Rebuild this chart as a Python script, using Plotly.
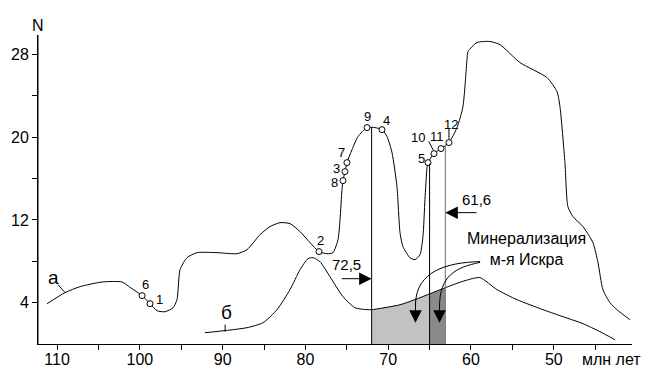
import plotly.graph_objects as go

# ---- data ----
# curve "а"
a_age = [111.21, 109.03, 107.22, 104.57, 102.15, 101.18, 99.73, 98.77, 97.92, 96.96,
         95.99, 95.51, 95.14, 94.30, 93.09, 90.68, 88.26, 87.05, 85.48, 84.28,
         83.07, 81.86, 80.65, 79.44, 78.36, 77.39, 76.67, 76.06, 75.82, 75.58,
         75.46, 75.22, 74.98, 74.37, 73.65, 72.56, 71.6, 70.75, 70.14, 69.54,
         68.94, 68.57, 68.21, 67.37, 66.76, 66.16, 65.80, 65.56, 65.31, 65.19,
         64.47, 63.62, 62.66, 61.69, 60.97, 60.48, 60.36, 59.28, 57.71, 56.50,
         54.08, 50.82, 49.61, 49.25, 48.65, 48.29, 47.68, 46.47, 45.27, 44.66,
         44.06, 43.21, 42.37, 40.80]
a_n = [3.90, 4.97, 5.55, 6.0, 6.0, 5.48, 4.68, 3.90, 3.22, 3.12,
       3.51, 4.29, 7.19, 8.35, 8.84, 8.84, 8.74, 9.13, 10.58, 11.36,
       11.74, 11.65, 10.87, 9.81, 8.94, 8.74, 8.84, 10.10, 12.03, 14.94,
       15.81, 16.68, 17.55, 18.81, 20.07, 20.94, 20.94, 20.74, 20.07, 18.52,
       15.23, 10.77, 9.42, 8.35, 8.16, 8.64, 10.39, 13.97, 17.07, 17.55,
       18.42, 18.91, 19.49, 20.94, 22.97, 27.52, 28.30, 29.17, 29.27, 28.97,
       27.23, 25.78, 24.42, 22.97, 17.55, 13.29, 12.32, 11.36, 9.81, 7.87,
       5.26, 4.0, 3.32, 2.35]

# curve "б"
b_age = [92.13, 87.05, 85.12, 83.43, 81.86, 80.65, 79.69, 79.08, 78.24, 77.03,
         75.46, 74.01, 72.56, 72.0, 68.57, 66.16, 65.0, 63.1, 60.72, 58.91,
         56.86, 54.44, 51.30, 49.25, 46.47, 44.42, 42.61]
b_n = [1.09, 1.58, 2.06, 3.32, 5.26, 7.19, 8.26, 8.35, 7.97, 6.51,
       4.58, 3.51, 3.32, 3.32, 3.80, 4.48, 4.85, 5.45, 6.13, 6.42,
       5.26, 4.29, 3.32, 2.74, 1.97, 1.19, 0.42]

# numbered sample points on curve "а"
pt_label = ["1", "2", "3", "4", "5", "6", "7", "8", "9", "10", "11", "12"]
pt_age = [98.77, 78.36, 75.22, 70.75, 65.19, 99.73, 74.98, 75.46, 72.56, 64.47, 63.62, 62.66]
pt_n = [3.90, 8.94, 16.68, 20.74, 17.55, 4.68, 17.55, 15.81, 20.94, 18.42, 18.91, 19.49]

# boundaries (млн лет)
age_start = 72.0      # labelled 72,5
age_mid = 65.0
age_end = 63.1        # labelled 61,6
top_start = 20.94
top_mid = 17.45
top_end = 19.3

x_ticks = [110, 105, 100, 95, 90, 85, 80, 75, 70, 65, 60, 55, 50, 45]
x_ticktext = ["110", "", "100", "", "90", "", "80", "", "70", "", "60", "", "50", ""]
y_ticks = [4, 8, 12, 16, 20, 24, 28]
y_ticktext = ["4", "", "12", "", "20", "", "28"]

# label offsets (pixels) for numbered points
lbl_dx = [9, 2, -8, 5, -7, 3, -5, -8, 0, -16, -4, 2]
lbl_dy = [4, 11, 3, 9, 4, 11, 10, -2, 11, 16, 12, 18]

FONT = "Liberation Sans, Arial, sans-serif"

fig = go.Figure()

# shaded intervals below curve "б"
seg1 = [(x, y) for x, y in zip(b_age, b_n) if age_mid <= x <= age_start]
seg2 = [(x, y) for x, y in zip(b_age, b_n) if age_end <= x <= age_mid]
fig.add_trace(go.Scatter(
    x=[age_start] + [p[0] for p in seg1] + [age_mid, age_start],
    y=[0] + [p[1] for p in seg1] + [0, 0],
    fill="toself", fillcolor="#c2c2c2", line=dict(width=0), mode="lines",
    hoverinfo="skip", showlegend=False))
fig.add_trace(go.Scatter(
    x=[age_mid] + [p[0] for p in seg2] + [age_end, age_mid],
    y=[0] + [p[1] for p in seg2] + [0, 0],
    fill="toself", fillcolor="#8a8a8a", line=dict(width=0), mode="lines",
    hoverinfo="skip", showlegend=False))

# curves
fig.add_trace(go.Scatter(x=a_age, y=a_n, mode="lines",
                         line=dict(color="black", width=1, shape="spline", smoothing=0.6),
                         showlegend=False))
fig.add_trace(go.Scatter(x=b_age, y=b_n, mode="lines",
                         line=dict(color="black", width=1, shape="spline", smoothing=0.6),
                         showlegend=False))

# vertical lines
shapes = [
    dict(type="line", xref="x", yref="y", x0=age_start, x1=age_start, y0=0, y1=top_start,
         line=dict(color="black", width=1)),
    dict(type="line", xref="x", yref="y", x0=age_mid, x1=age_mid, y0=0, y1=top_mid,
         line=dict(color="black", width=1)),
    dict(type="line", xref="x", yref="y", x0=age_end, x1=age_end, y0=0, y1=top_end,
         line=dict(color="#6e6e6e", width=1)),
    # leaders for labels а, б, 10, 12
    dict(type="line", xref="x", yref="y", x0=109.88, x1=109.03, y0=5.74, y1=4.97,
         line=dict(color="black", width=1)),
    dict(type="line", xref="x", yref="y", x0=89.7, x1=89.7, y0=1.87, y1=1.19,
         line=dict(color="black", width=1)),
    dict(type="line", xref="x", yref="y", x0=65.1, x1=64.55, y0=19.6, y1=18.75,
         line=dict(color="black", width=1)),
    dict(type="line", xref="x", yref="y", x0=62.66, x1=62.66, y0=20.8, y1=19.85,
         line=dict(color="black", width=1)),
    # curved pointers from the mineralisation label
    dict(type="path", xref="x", yref="y",
         path="M 58.9,7.97 C 63.0,7.9 66.6,7.0 66.7,3.9",
         line=dict(color="black", width=1)),
    dict(type="path", xref="x", yref="y",
         path="M 58.9,7.9 C 61.9,7.4 63.8,6.6 63.8,3.6",
         line=dict(color="black", width=1)),
    # y axis line
    dict(type="line", xref="paper", yref="paper", x0=0, x1=0, y0=0, y1=1,
         line=dict(color="black", width=1)),
]

pt_trace = go.Scatter(x=pt_age, y=pt_n, mode="markers",
                      marker=dict(symbol="circle", size=6, color="white",
                                  line=dict(color="black", width=1)),
                      showlegend=False)
fig.add_trace(pt_trace)

annotations = []
for lab, x, y, dx, dy in zip(pt_label, pt_age, pt_n, lbl_dx, lbl_dy):
    annotations.append(dict(x=x, y=y, xref="x", yref="y", text=lab, showarrow=False,
                            xshift=dx, yshift=dy, font=dict(size=13, family=FONT, color="black")))

# arrows 72,5 and 61,6
annotations.append(dict(x=age_start, y=6.32, ax=75.8, ay=6.32, xref="x", yref="y",
                        axref="x", ayref="y", text="", showarrow=True, arrowhead=2,
                        arrowsize=2.5, arrowwidth=1, arrowcolor="black"))
annotations.append(dict(x=75.0, y=7.68, xref="x", yref="y", text="72,5", showarrow=False,
                        font=dict(size=15, family=FONT, color="black")))
annotations.append(dict(x=age_end, y=12.71, ax=59.15, ay=12.71, xref="x", yref="y",
                        axref="x", ayref="y", text="", showarrow=True, arrowhead=2,
                        arrowsize=2.5, arrowwidth=1, arrowcolor="black"))
annotations.append(dict(x=59.3, y=13.97, xref="x", yref="y", text="61,6", showarrow=False,
                        font=dict(size=15, family=FONT, color="black")))
# down arrowheads of curved pointers
annotations.append(dict(x=66.7, y=2.06, ax=66.7, ay=4.2, xref="x", yref="y",
                        axref="x", ayref="y", text="", showarrow=True, arrowhead=2,
                        arrowsize=2.5, arrowwidth=1, arrowcolor="black"))
annotations.append(dict(x=63.8, y=2.06, ax=63.8, ay=4.0, xref="x", yref="y",
                        axref="x", ayref="y", text="", showarrow=True, arrowhead=2,
                        arrowsize=2.5, arrowwidth=1, arrowcolor="black"))
annotations.append(dict(x=53.3, y=9.2, xref="x", yref="y",
                        text="Минерализация<br>м-я Искра", showarrow=False, align="center",
                        font=dict(size=16, family=FONT, color="black")))
# curve labels
annotations.append(dict(x=110.48, y=6.42, xref="x", yref="y", text="а", showarrow=False,
                        font=dict(size=19, family=FONT, color="black")))
annotations.append(dict(x=89.59, y=3.03, xref="x", yref="y", text="б", showarrow=False,
                        font=dict(size=19, family=FONT, color="black")))
# axis titles
annotations.append(dict(x=0, y=1.032, xref="paper", yref="paper", text="N", showarrow=False,
                        xanchor="center", yanchor="middle",
                        font=dict(size=16, family=FONT, color="black")))
annotations.append(dict(x=0.966, y=-0.05, xref="paper", yref="paper", text="млн лет",
                        showarrow=False, xanchor="center", yanchor="middle",
                        font=dict(size=16, family=FONT, color="black")))

fig.update_layout(
    width=647, height=368,
    margin=dict(l=38, r=15, t=35, b=24, autoexpand=False),
    paper_bgcolor="white", plot_bgcolor="white",
    font=dict(family=FONT, size=16, color="black"),
    shapes=shapes, annotations=annotations,
    xaxis=dict(range=[112.3, 40.55], tickvals=x_ticks, ticktext=x_ticktext,
               ticks="outside", ticklen=5, tickcolor="black", showline=True,
               linecolor="black", linewidth=1, showgrid=False, zeroline=False,
               tickfont=dict(size=16), automargin=False, ticklabelstandoff=-4),
    yaxis=dict(range=[0, 29.9], tickvals=y_ticks, ticktext=y_ticktext,
               ticks="outside", ticklen=5, tickcolor="black", showline=True,
               linecolor="black", linewidth=1, showgrid=False, zeroline=False,
               tickfont=dict(size=16), automargin=False),
)

fig.write_html("out.html", config={"displayModeBar": False},
               post_script="document.body.style.margin='0';document.body.style.overflow='hidden';")
